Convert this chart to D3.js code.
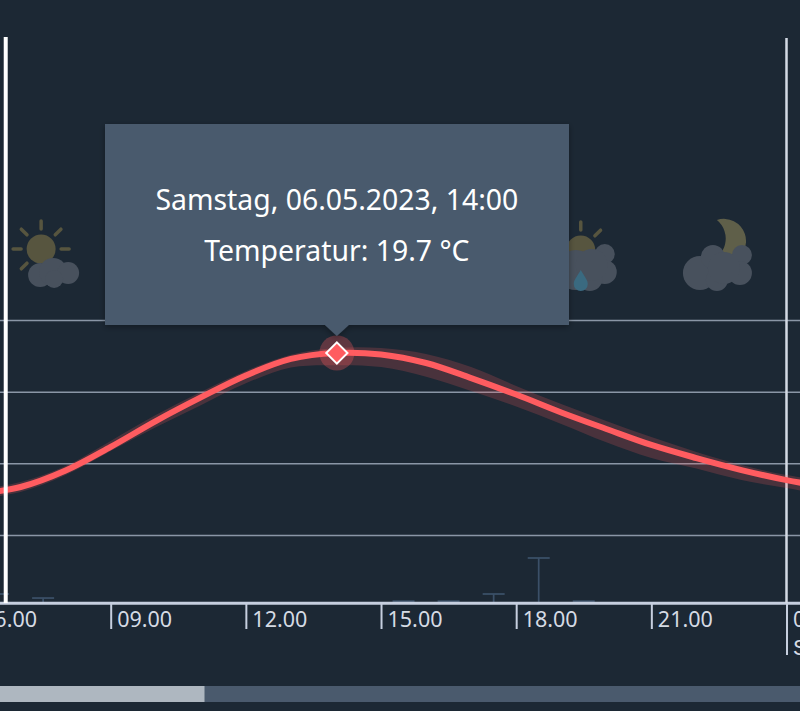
<!DOCTYPE html>
<meta charset="utf-8">
<style>
  html, body { margin: 0; padding: 0; background: #1c2834; overflow: hidden; }
  svg { display: block; font-family: "Noto Sans", sans-serif; }
</style>
<script src="https://d3js.org/d3.v7.min.js"></script>
<div id="chart"></div>

<script>
  // hourly values
  const hours     = [6, 7, 8, 9, 10, 11, 12, 13, 14, 15, 16, 17, 18, 19, 20, 21, 22, 23, 24, 25]
  const temps     = [13.79, 14.08, 14.77, 15.76, 16.84, 17.83, 18.75, 19.44, 19.69, 19.63, 19.27, 18.64, 17.95, 17.20, 16.51, 15.84, 15.29, 14.79, 14.37, 14.04]
  const tempsHigh = [13.95, 14.29, 14.96, 16.01, 17.09, 18.06, 18.94, 19.62, 19.90, 19.90, 19.65, 19.10, 18.31, 17.55, 16.84, 16.17, 15.55, 15.00, 14.58, 14.29]
  const tempsLow  = [13.58, 13.87, 14.58, 15.59, 16.58, 17.50, 18.42, 19.08, 19.18, 19.10, 18.70, 18.10, 17.45, 16.72, 15.95, 15.29, 14.85, 14.37, 14.04, 13.70]

  const rainHours  = [6, 7, 15, 16, 17, 18, 19]
  const rainValues = [0.2, 0.11, 0.04, 0.04, 0.2, 1.0, 0.04]

  const gridTemps  = [21.05, 18.05, 15.05, 12.05]
  const tickHours  = [6, 9, 12, 15, 18, 21, 24]
  const tickLabels = ["06.00", "09.00", "12.00", "15.00", "18.00", "21.00", "00.00"]

  const iconHours = [7, 19, 22]
  const iconTypes = ["sunCloud", "sunRain", "moonCloud"]

  const nowHour = 6.67
  const selectedHour = 14.02
  const selectedTemp = 19.69
  const tooltipDate = "Samstag, 06.05.2023, 14:00"
  const nextDayLabel = "Sonntag"

  const width = 800
  const height = 711

  const x = d3.scaleLinear().domain([9, 24]).range([110.7, 786.5])
  const y = d3.scaleLinear().domain([21.05, 12.05]).range([320.5, 535.5])
  const yRain = d3.scaleLinear().domain([0, 1]).range([603, 558])

  const svg = d3.select("#chart").append("svg")
    .attr("width", width)
    .attr("height", height)

  // weather icons, dimmed
  const sunColor = "#57553f"
  const cloudColor = "#48515d"

  function drawSun(g, cx, cy) {
    g.append("circle").attr("cx", cx).attr("cy", cy).attr("r", 14.5).attr("fill", sunColor)
    d3.range(8).forEach(i => {
      const a = i * Math.PI / 4
      g.append("line")
        .attr("x1", cx + 20 * Math.cos(a)).attr("y1", cy + 20 * Math.sin(a))
        .attr("x2", cx + 28 * Math.cos(a)).attr("y2", cy + 28 * Math.sin(a))
        .attr("stroke", sunColor).attr("stroke-width", 3.5).attr("stroke-linecap", "round")
    })
  }

  function drawCloud(g, blobs) {
    blobs.forEach(b => {
      g.append("circle").attr("cx", b[0]).attr("cy", b[1]).attr("r", b[2]).attr("fill", cloudColor)
    })
  }

  const icons = svg.append("g")
  iconHours.forEach((h, i) => {
    const g = icons.append("g").attr("transform", "translate(" + x(h + 0.5) + ",0)")
    if (iconTypes[i] == "sunCloud") {
      drawSun(g, -2, 249)
      drawCloud(g, [[-3, 275, 12], [10, 272, 14], [25, 273, 11], [11, 279, 9]])
    }
    if (iconTypes[i] == "sunRain") {
      drawSun(g, -3, 250)
      drawCloud(g, [[-8, 270, 20], [21, 254, 10], [21, 272, 12], [6, 278, 13], [8, 265, 16]])
      g.append("path")
        .attr("d", "M-3,270 C-7,277 -10,280 -10,284 A7,7 0 0 0 4,284 C4,280 1,277 -3,270Z")
        .attr("fill", "#3a6a80")
    }
    if (iconTypes[i] == "moonCloud") {
      g.append("path")
        .attr("d", "M-2,220 A22,22 0 0 1 12,262 L-12,262 A24,24 0 0 0 -2,220Z")
        .attr("fill", "#5f5f49")
      drawCloud(g, [[-19, 273, 17], [-6, 257, 12], [23, 255, 10], [21, 273, 12], [-2, 280, 11], [5, 268, 16]])
    }
  })

  // grid
  svg.append("g").selectAll("line")
    .data(gridTemps)
    .enter().append("line")
    .attr("x1", 0)
    .attr("x2", width)
    .attr("y1", d => y(d))
    .attr("y2", d => y(d))
    .attr("stroke", "#8a96a6")
    .attr("stroke-width", 1.5)

  // precipitation whiskers
  const rain = svg.append("g").attr("stroke", "#3b5068").attr("stroke-width", 1.75)
  rain.selectAll(".stem")
    .data(rainHours)
    .enter().append("line")
    .attr("class", "stem")
    .attr("x1", d => x(d + 0.5))
    .attr("x2", d => x(d + 0.5))
    .attr("y1", yRain(0))
    .attr("y2", (d, i) => yRain(rainValues[i]))
  rain.selectAll(".cap")
    .data(rainHours)
    .enter().append("line")
    .attr("class", "cap")
    .attr("x1", d => x(d + 0.5) - 11)
    .attr("x2", d => x(d + 0.5) + 11)
    .attr("y1", (d, i) => yRain(rainValues[i]))
    .attr("y2", (d, i) => yRain(rainValues[i]))

  // x axis
  const xAxis = d3.axisBottom(x)
    .tickValues(tickHours)
    .tickSize(25)
    .tickFormat((d, i) => tickLabels[i])

  const axisG = svg.append("g")
    .attr("transform", "translate(0,603)")
    .call(xAxis)

  axisG.select(".domain").remove()
  axisG.append("line")
    .attr("x1", 0).attr("x2", width)
    .attr("y1", 0.3).attr("y2", 0.3)
    .attr("stroke", "#c6cfdf").attr("stroke-width", 3)
  axisG.selectAll(".tick line")
    .attr("stroke", "#c6cfdf").attr("stroke-width", 2)
    .attr("y1", 1)
    .attr("y2", d => d == 24 ? 52 : 26)
  axisG.selectAll(".tick text")
    .attr("text-anchor", "start")
    .attr("x", 6)
    .attr("y", 9)
    .attr("fill", "#d5dbe4")
    .style("font-family", '"Noto Sans", sans-serif')
    .style("font-size", "21.5px")

  axisG.selectAll(".tick").filter(d => d == 24).append("text")
    .attr("x", 6)
    .attr("y", 52)
    .attr("text-anchor", "start")
    .attr("fill", "#d5dbe4")
    .style("font-size", "21.5px")
    .text(nextDayLabel)

  // day line on the right runs all the way up
  svg.append("line")
    .attr("x1", x(24)).attr("x2", x(24))
    .attr("y1", 38).attr("y2", 603)
    .attr("stroke", "#d3dae4").attr("stroke-width", 2.5)

  // temperature band and line
  const rows = hours.map((h, i) => ({ h: h, t: temps[i], hi: tempsHigh[i], lo: tempsLow[i] }))

  const band = d3.area()
    .x(d => x(d.h))
    .y0(d => y(d.lo))
    .y1(d => y(d.hi))
    .curve(d3.curveCatmullRom.alpha(0.5))

  const line = d3.line()
    .x(d => x(d.h))
    .y(d => y(d.t))
    .curve(d3.curveCatmullRom.alpha(0.5))

  svg.append("path").datum(rows)
    .attr("d", band)
    .attr("fill", "#ff5c60")
    .attr("fill-opacity", 0.2)

  svg.append("path").datum(rows)
    .attr("d", line)
    .attr("fill", "none")
    .attr("stroke", "#ff5c60")
    .attr("stroke-width", 6)

  // current time line sits on top of the curve
  svg.append("line")
    .attr("x1", x(nowHour)).attr("x2", x(nowHour))
    .attr("y1", 37).attr("y2", 603)
    .attr("stroke", "#ffffff").attr("stroke-width", 4)

  // selected point
  const mx = x(selectedHour)
  const my = y(selectedTemp)
  svg.append("circle")
    .attr("cx", mx).attr("cy", my).attr("r", 17.5)
    .attr("fill", "#ff5c60").attr("fill-opacity", 0.3)
  svg.append("path")
    .attr("transform", "translate(" + mx + "," + my + ") rotate(45)")
    .attr("d", "M-7.5,-7.5H7.5V7.5H-7.5Z")
    .attr("fill", "#ff5c60")
    .attr("stroke", "#ffffff")
    .attr("stroke-width", 2)

  // tooltip
  const defs = svg.append("defs")
  const shadow = defs.append("filter").attr("id", "shadow")
    .attr("x", "-10%").attr("y", "-10%").attr("width", "120%").attr("height", "125%")
  shadow.append("feDropShadow")
    .attr("dx", 0).attr("dy", 2).attr("stdDeviation", 3)
    .attr("flood-color", "#000000").attr("flood-opacity", 0.35)

  const tip = svg.append("g").attr("filter", "url(#shadow)")
  tip.append("path")
    .attr("d", "M105,124H569V325H" + (mx + 12) + "L" + mx + ",336L" + (mx - 12) + ",325H105Z")
    .attr("fill", "#4a5a6d")

  svg.append("text")
    .attr("x", mx).attr("y", 210)
    .attr("text-anchor", "middle")
    .attr("fill", "#ffffff")
    .style("font-size", "28.4px")
    .text(tooltipDate)
  svg.append("text")
    .attr("x", mx).attr("y", 261)
    .attr("text-anchor", "middle")
    .attr("fill", "#ffffff")
    .style("font-size", "28.4px")
    .text("Temperatur: " + selectedTemp.toFixed(1) + " °C")

  // scrollbar
  svg.append("rect").attr("x", 0).attr("y", 686).attr("width", width).attr("height", 16).attr("fill", "#4a5a6d")
  svg.append("rect").attr("x", 0).attr("y", 686).attr("width", 204.5).attr("height", 16).attr("fill", "#aeb7c0")
</script>
